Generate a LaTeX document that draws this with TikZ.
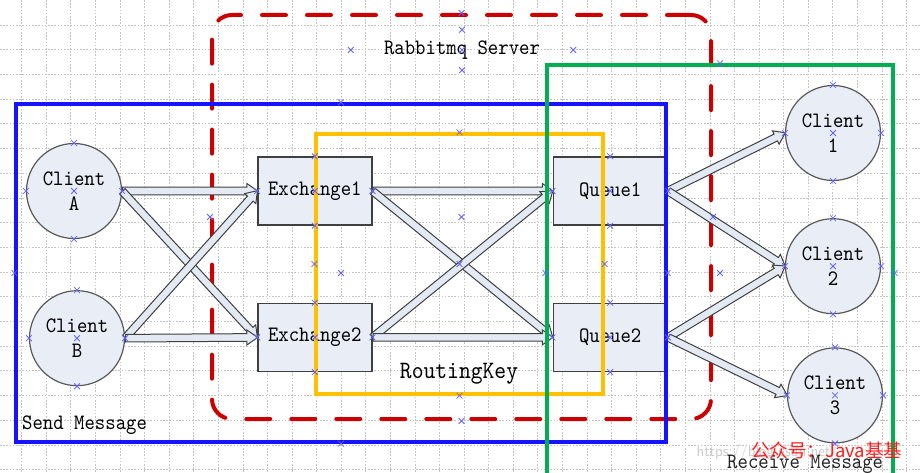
\documentclass[tikz,border=0pt]{standalone}
\usepackage{fontspec}
\setmonofont[FakeStretch=0.9]{lmmono10-regular.otf}
\newfontfamily\cjkfont{Noto Sans CJK SC}
\usepackage{tikz}
\usetikzlibrary{positioning, calc, shapes.arrows, shapes.misc}

\definecolor{nodefill}{HTML}{E8EDF6}
\definecolor{arrowfill}{HTML}{E4EAF4}
\definecolor{arrowline}{HTML}{404040}
\definecolor{sendblue}{HTML}{1414FF}
\definecolor{serverred}{HTML}{CC0000}
\definecolor{keyorange}{HTML}{FFC000}
\definecolor{recvgreen}{HTML}{00B050}
\definecolor{markblue}{HTML}{6464FF}
\definecolor{gridgray}{HTML}{C4C4C4}
\definecolor{wmred}{HTML}{FF1E1E}

\newcommand{\fatarrow}[2]{%
  \path let \p1 = ($(#2)-(#1)$), \n1 = {veclen(\x1,\y1)}, \n2 = {atan2(\y1,\x1)} in
    node[fat, anchor=tail, minimum height=\n1, rotate=\n2] at (#1) {}}

\begin{document}
\begin{tikzpicture}[
  x=1pt, y=1pt,
  font=\fontsize{22}{25}\selectfont\ttfamily,
  client/.style   = {draw=black!65, line width=1.2pt, fill=nodefill, circle, minimum size=95pt, inner sep=0pt, align=center},
  box/.style      = {draw=black!75, line width=1.4pt, fill=nodefill, rectangle, minimum width=114pt, minimum height=68pt, inner sep=0pt},
  frame/.style    = {rectangle, inner sep=0pt},
  fat/.style      = {single arrow, draw=arrowline, fill=arrowfill, line width=1pt, inner sep=0pt, inner ysep=3.3pt,
                     single arrow head extend=3.7pt, single arrow tip angle=70},
  gridline/.style = {draw=gridgray, line width=0.8pt, dash pattern=on 1.6pt off 1.6pt},
  xmk/.style      = {cross out, draw=markblue, line width=0.8pt, minimum size=5pt, inner sep=0pt},
]
  \fill[white] (0,0) rectangle (920,472);
  \useasboundingbox (0,0) rectangle (920,472);

  % grid
  \foreach \k in {0,...,36} \draw[gridline] ({21.7+24.58*\k},0) -- ({21.7+24.58*\k},472);
  \foreach \k in {0,...,18} \draw[gridline] (0,{447-24.7*\k}) -- (920,{447-24.7*\k});

  \node[frame, draw=serverred, line width=4pt, dash pattern=on 24pt off 21pt, line cap=round,
        rounded corners=20pt, minimum width=499pt, minimum height=404pt] (server) at (461.5,255) {};

  \node[client]                          (ca)  at (74,281) {Client\\A};
  \node[client, below=51pt of ca, xshift=3pt] (cb)  {Client\\B};
  \node[box, right=135pt of ca]          (ex1) {Exchange1};
  \node[box, below=77pt of ex1]          (ex2) {Exchange2};
  \node[box, right=180pt of ex1]         (q1)  {Queue1};
  \node[box, right=180pt of ex2]         (q2)  {Queue2};
  \node[client]                          (c1)  at (833,339) {Client\\1};
  \node[client, below=37pt of c1]        (c2)  {Client\\2};
  \node[client, below=33pt of c2, xshift=2pt] (c3) {Client\\3};

  \foreach \a/\b in {ca/ex1, ca/ex2, cb/ex1, cb/ex2, ex1/q1, ex1/q2, ex2/q1, ex2/q2, q1/c1, q1/c2, q2/c2, q2/c3}
    \fatarrow{\a.east}{\b.west};

  \node[frame, draw=sendblue,  line width=3.2pt, minimum width=650pt, minimum height=338pt] (send)    at (341,199) {};
  \node[frame, draw=keyorange, line width=3.2pt, minimum width=287pt, minimum height=260pt] (routing) at (459.5,208) {};
  \node[frame, draw=recvgreen, line width=3.2pt, minimum width=346pt, minimum height=416pt] (receive) at (720,199) {};

  \node[minimum width=222pt, minimum height=40pt, inner sep=0pt] (srvlabel) at (462,422) {Rabbitmq Server};
  \node[anchor=base, font=\fontsize{25}{25}\selectfont\ttfamily] (keylabel) at (459,94) {RoutingKey};
  \node[anchor=base west, inner sep=0pt] (sendlabel) at (22,43) {Send Message};

  \foreach \n in {ca, cb, c1, c2, c3, ex1, ex2, q1, q2, send, server, routing, receive, srvlabel}
    \foreach \a in {north, south, east, west, center}
      \node[xmk] at (\n.\a) {};

  \node[anchor=west, text=black!20, font=\fontsize{16}{16}\selectfont\sffamily] (url) at (693,20) {https://blog.csdn.net/};
  \node[anchor=base west, inner sep=0pt, text=black!85] (recvlabel) at (727,4) {Receive Message};
  \node[anchor=west, inner sep=0pt, text=wmred, font=\fontsize{18.5}{18.5}\selectfont\cjkfont] (wm) at (751,22) {公众号：Java基基};
\end{tikzpicture}
\end{document}
